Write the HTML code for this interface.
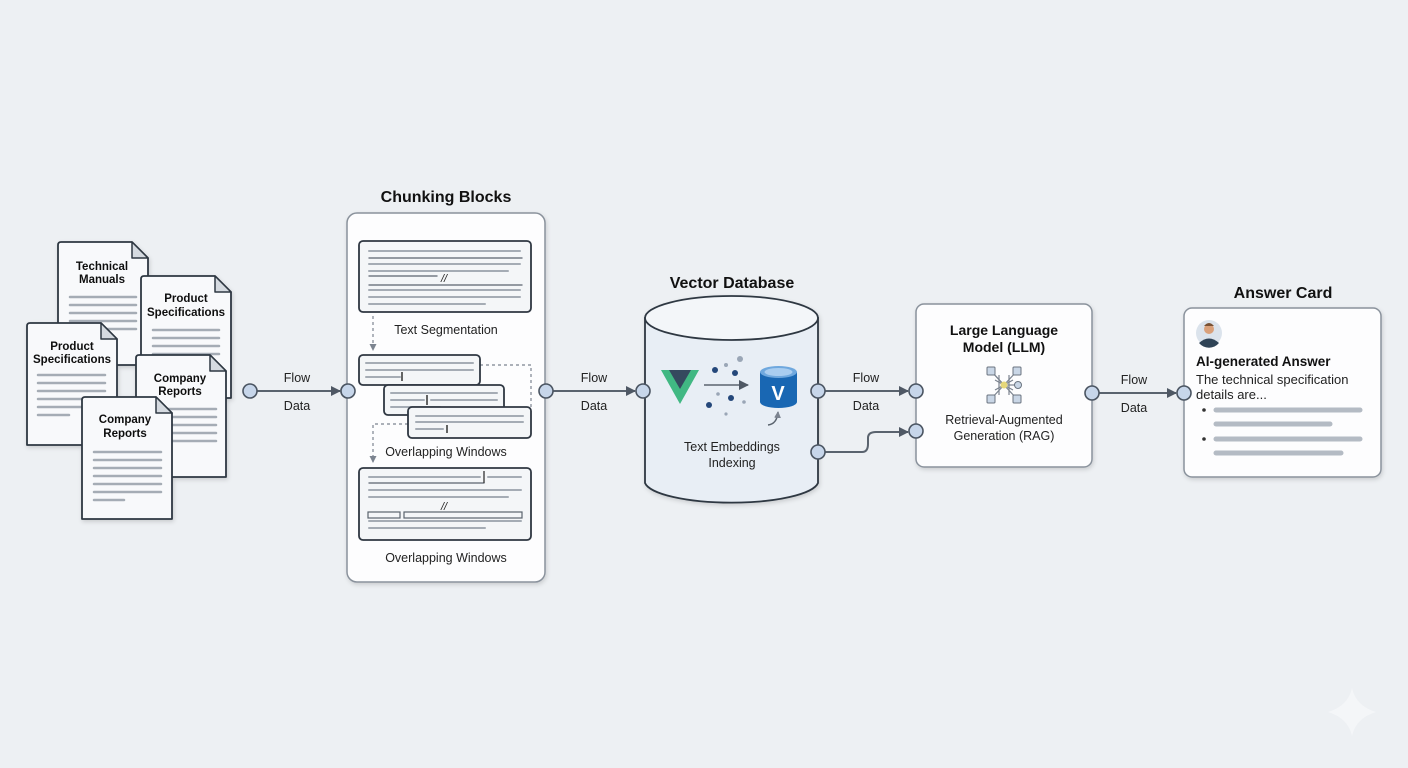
<!DOCTYPE html>
<html><head><meta charset="utf-8"><style>
html,body{margin:0;padding:0;background:#edf0f3;}
svg{display:block;font-family:"Liberation Sans",sans-serif;}
.t{font-size:12.5px;fill:#222;text-anchor:middle}
.b{font-weight:bold;fill:#111}
.ln{stroke:#a5acb5;stroke-width:2.5;stroke-linecap:round}
.doc{fill:#f8f9fb;stroke:#2f3742;stroke-width:1.8;stroke-linejoin:round}
.fold{fill:#d5dae0;stroke:#2f3742;stroke-width:1.5;stroke-linejoin:round}
.blk{fill:#f4f6f8;stroke:#2f3742;stroke-width:1.8}
.cn{fill:#c7d6ea;stroke:#4a5461;stroke-width:1.6}
.ar{stroke:#5a636e;stroke-width:2;fill:none}
.ds{stroke:#7c8490;stroke-width:1.2;stroke-dasharray:3 3;fill:none}
</style></head><body>
<svg width="1408" height="768" viewBox="0 0 1408 768">
<defs>
<marker id="ah" markerWidth="10" markerHeight="10" refX="9" refY="5" orient="auto" markerUnits="userSpaceOnUse"><path d="M0,0 L10,5 L0,10 Z" fill="#4f5864"/></marker>
<marker id="sh" markerWidth="7" markerHeight="7" refX="6" refY="3.5" orient="auto" markerUnits="userSpaceOnUse"><path d="M0,0 L7,3.5 L0,7 Z" fill="#7c8490"/></marker>
<filter id="sd" x="-10%" y="-10%" width="130%" height="130%"><feDropShadow dx="1" dy="2" stdDeviation="2" flood-color="#000" flood-opacity="0.15"/></filter>
</defs>
<rect width="1408" height="768" fill="#edf0f3"/>

<g filter="url(#sd)">
<g transform="translate(58,242)"><path class="doc" d="M0,3 Q0,0 3,0 H74 L90,16 V123 H0 Z"/><path class="fold" d="M74,0 V16 H90 Z"/>
<text class="t b" x="44" y="28" style="font-size:11.5px">Technical</text><text class="t b" x="44" y="41" style="font-size:11.5px">Manuals</text>
<g class="ln"><line x1="12" y1="55" x2="78" y2="55"/><line x1="12" y1="63" x2="78" y2="63"/><line x1="12" y1="71" x2="78" y2="71"/><line x1="12" y1="79" x2="78" y2="79"/><line x1="12" y1="87" x2="78" y2="87"/></g></g>
<g transform="translate(141,276)"><path class="doc" d="M0,3 Q0,0 3,0 H74 L90,16 V122 H0 Z"/><path class="fold" d="M74,0 V16 H90 Z"/>
<text class="t b" x="45" y="26" style="font-size:11.5px">Product</text><text class="t b" x="45" y="40" style="font-size:11.5px">Specifications</text>
<g class="ln"><line x1="12" y1="54" x2="78" y2="54"/><line x1="12" y1="62" x2="78" y2="62"/><line x1="12" y1="70" x2="78" y2="70"/><line x1="12" y1="78" x2="78" y2="78"/></g></g>
<g transform="translate(27,323)"><path class="doc" d="M0,3 Q0,0 3,0 H74 L90,16 V122 H0 Z"/><path class="fold" d="M74,0 V16 H90 Z"/>
<text class="t b" x="45" y="27" style="font-size:11.5px">Product</text><text class="t b" x="45" y="40" style="font-size:11.5px">Specifications</text>
<g class="ln"><line x1="11" y1="52" x2="78" y2="52"/><line x1="11" y1="60" x2="78" y2="60"/><line x1="11" y1="68" x2="78" y2="68"/><line x1="11" y1="76" x2="78" y2="76"/><line x1="11" y1="84" x2="78" y2="84"/><line x1="11" y1="92" x2="42" y2="92"/></g></g>
<g transform="translate(136,355)"><path class="doc" d="M0,3 Q0,0 3,0 H74 L90,16 V122 H0 Z"/><path class="fold" d="M74,0 V16 H90 Z"/>
<text class="t b" x="44" y="27" style="font-size:11.5px">Company</text><text class="t b" x="44" y="40" style="font-size:11.5px">Reports</text>
<g class="ln"><line x1="12" y1="54" x2="80" y2="54"/><line x1="12" y1="62" x2="80" y2="62"/><line x1="12" y1="70" x2="80" y2="70"/><line x1="12" y1="78" x2="80" y2="78"/><line x1="12" y1="86" x2="80" y2="86"/></g></g>
<g transform="translate(82,397)"><path class="doc" d="M0,3 Q0,0 3,0 H74 L90,16 V122 H0 Z"/><path class="fold" d="M74,0 V16 H90 Z"/>
<text class="t b" x="43" y="26" style="font-size:11.5px">Company</text><text class="t b" x="43" y="40" style="font-size:11.5px">Reports</text>
<g class="ln"><line x1="12" y1="55" x2="79" y2="55"/><line x1="12" y1="63" x2="79" y2="63"/><line x1="12" y1="71" x2="79" y2="71"/><line x1="12" y1="79" x2="79" y2="79"/><line x1="12" y1="87" x2="79" y2="87"/><line x1="12" y1="95" x2="79" y2="95"/><line x1="12" y1="103" x2="42" y2="103"/></g></g>
</g>

<line class="ar" x1="257" y1="391" x2="340" y2="391" marker-end="url(#ah)"/>
<circle class="cn" cx="250" cy="391" r="7"/><circle class="cn" cx="348" cy="391" r="7"/>
<text class="t" x="297" y="382">Flow</text><text class="t" x="297" y="410">Data</text>

<text class="t b" x="446" y="202" style="font-size:16px">Chunking Blocks</text>
<rect x="347" y="213" width="198" height="369" rx="10" fill="#fdfdfe" stroke="#8a929c" stroke-width="1.5" filter="url(#sd)"/>
<circle class="cn" cx="348" cy="391" r="7"/>
<rect class="blk" x="359" y="241" width="172" height="71" rx="4"/>
<g class="ln" style="stroke-width:2"><line x1="369" y1="251" x2="520" y2="251"/><line x1="369" y1="258" x2="522" y2="258" style="stroke:#5a636e;stroke-width:1.3"/><line x1="369" y1="264" x2="520" y2="264"/><line x1="369" y1="271" x2="508" y2="271"/><line x1="369" y1="276" x2="437" y2="276" style="stroke:#5a636e;stroke-width:1.3"/><line x1="369" y1="285" x2="522" y2="285" style="stroke:#5a636e;stroke-width:1.3"/><line x1="369" y1="290" x2="520" y2="290"/><line x1="369" y1="297" x2="520" y2="297"/><line x1="369" y1="304" x2="485" y2="304"/></g>
<text x="441" y="282" style="font-size:11px;font-style:italic" fill="#222">//</text>
<text class="t" x="446" y="334">Text Segmentation</text>
<path class="ds" d="M373,316 V350" marker-end="url(#sh)"/>
<path class="ds" d="M480,365 H531 V407"/>
<rect class="blk" x="359" y="355" width="121" height="30" rx="4"/>
<g class="ln" style="stroke-width:2"><line x1="366" y1="363" x2="473" y2="363"/><line x1="366" y1="370" x2="473" y2="370"/><line x1="366" y1="377" x2="400" y2="377"/></g><line x1="402" y1="372" x2="402" y2="381" stroke="#333" stroke-width="1.5"/>
<rect class="blk" x="384" y="385" width="120" height="30" rx="4"/>
<g class="ln" style="stroke-width:2"><line x1="391" y1="393" x2="497" y2="393"/><line x1="391" y1="400" x2="424" y2="400"/><line x1="431" y1="400" x2="497" y2="400"/><line x1="391" y1="407" x2="440" y2="407"/></g><line x1="427" y1="395" x2="427" y2="405" stroke="#333" stroke-width="1.5"/>
<path class="ds" d="M408,424 H373 V462" marker-end="url(#sh)"/>
<rect class="blk" x="408" y="407" width="123" height="31" rx="4"/>
<g class="ln" style="stroke-width:2"><line x1="416" y1="416" x2="523" y2="416"/><line x1="416" y1="422" x2="523" y2="422"/><line x1="416" y1="429" x2="443" y2="429"/></g><line x1="447" y1="425" x2="447" y2="433" stroke="#333" stroke-width="1.5"/>
<text class="t" x="446" y="456">Overlapping Windows</text>
<rect class="blk" x="359" y="468" width="172" height="72" rx="4"/>
<g class="ln" style="stroke-width:2"><line x1="369" y1="477" x2="480" y2="477"/><line x1="488" y1="477" x2="521" y2="477"/><line x1="369" y1="483" x2="484" y2="483" style="stroke:#5a636e;stroke-width:1.3"/><line x1="369" y1="490" x2="521" y2="490"/><line x1="369" y1="497" x2="508" y2="497"/><line x1="369" y1="521" x2="521" y2="521"/><line x1="369" y1="528" x2="485" y2="528"/></g>
<line x1="484" y1="471" x2="484" y2="483" stroke="#333" stroke-width="1.3"/>
<rect x="368" y="512" width="32" height="6" fill="none" stroke="#5a636e" stroke-width="1.2"/><rect x="404" y="512" width="118" height="6" fill="none" stroke="#5a636e" stroke-width="1.2"/>
<text x="441" y="510" style="font-size:11px;font-style:italic" fill="#222">//</text>
<text class="t" x="446" y="562">Overlapping Windows</text>

<line class="ar" x1="553" y1="391" x2="635" y2="391" marker-end="url(#ah)"/>
<circle class="cn" cx="546" cy="391" r="7"/>
<text class="t" x="594" y="382">Flow</text><text class="t" x="594" y="410">Data</text>

<text class="t b" x="732" y="288" style="font-size:16px">Vector Database</text>
<g filter="url(#sd)">
<path d="M645,318 V483 A87,22 0 0 0 818,483 V318 Z" fill="#e8eef5" stroke="#2f3742" stroke-width="1.8"/>
<ellipse cx="731.5" cy="318" rx="86.5" ry="22" fill="#f3f6f9" stroke="#2f3742" stroke-width="1.8"/>
</g>
<circle class="cn" cx="643" cy="391" r="7"/>
<path d="M661,370 H699 L680,404 Z" fill="#41b883"/><path d="M669,370 H691 L680,389 Z" fill="#35495e"/>
<line x1="704" y1="385" x2="748" y2="385" stroke="#5a636e" stroke-width="1.5" marker-end="url(#ah)"/>
<g fill="#24477a"><circle cx="715" cy="370" r="3"/><circle cx="735" cy="373" r="3"/><circle cx="731" cy="398" r="3"/><circle cx="709" cy="405" r="3"/></g>
<g fill="#9aa6b6"><circle cx="726" cy="365" r="2"/><circle cx="740" cy="359" r="3"/><circle cx="718" cy="394" r="1.8"/><circle cx="744" cy="402" r="1.8"/><circle cx="726" cy="414" r="1.6"/></g>
<path d="M760,372 V402 A18.5,6 0 0 0 797,402 V372 Z" fill="#1967b3"/><ellipse cx="778.5" cy="372" rx="18.5" ry="6" fill="#6fa8de"/><ellipse cx="778.5" cy="372" rx="14" ry="4" fill="#a9cdf0"/>
<text x="778" y="400" text-anchor="middle" fill="#fff" style="font-size:20px;font-weight:bold">V</text>
<path d="M768,425 Q777,424 778,412" stroke="#5a636e" stroke-width="1.5" fill="none" marker-end="url(#sh)"/>
<text class="t" x="732" y="451">Text Embeddings</text><text class="t" x="732" y="467">Indexing</text>

<line class="ar" x1="825" y1="391" x2="908" y2="391" marker-end="url(#ah)"/>
<path class="ar" d="M825,452 H862 Q868,452 868,444 V438 Q868,432 876,432 H908" marker-end="url(#ah)"/>
<circle class="cn" cx="818" cy="391" r="7"/><circle class="cn" cx="818" cy="452" r="7"/>
<text class="t" x="866" y="382">Flow</text><text class="t" x="866" y="410">Data</text>

<rect x="916" y="304" width="176" height="163" rx="8" fill="#fdfdfe" stroke="#8a929c" stroke-width="1.5" filter="url(#sd)"/>
<circle class="cn" cx="916" cy="391" r="7"/><circle class="cn" cx="916" cy="431" r="7"/>
<text class="t b" x="1004" y="335" style="font-size:14px">Large Language</text><text class="t b" x="1004" y="352" style="font-size:14px">Model (LLM)</text>
<g stroke="#7c8490" stroke-width="1.2"><line x1="991" y1="371" x2="1017" y2="399"/><line x1="1017" y1="371" x2="991" y2="399"/><line x1="991" y1="371" x2="1004" y2="385"/><line x1="1004" y1="385" x2="1018" y2="385"/><line x1="995" y1="380" x2="1013" y2="390"/><line x1="995" y1="390" x2="1013" y2="380"/><line x1="999" y1="375" x2="999" y2="395"/><line x1="1009" y1="375" x2="1009" y2="395"/></g>
<g fill="#c9d6e6" stroke="#6a7480" stroke-width="1"><rect x="987" y="367" width="8" height="8" rx="1"/><rect x="1013" y="367" width="8" height="8" rx="1"/><rect x="987" y="395" width="8" height="8" rx="1"/><rect x="1013" y="395" width="8" height="8" rx="1"/><circle cx="1018" cy="385" r="3.5"/></g>
<circle cx="1004" cy="385" r="3.5" fill="#e6d77a"/>
<text class="t" x="1004" y="424">Retrieval-Augmented</text><text class="t" x="1004" y="440">Generation (RAG)</text>

<line class="ar" x1="1099" y1="393" x2="1176" y2="393" marker-end="url(#ah)"/>
<circle class="cn" cx="1092" cy="393" r="7"/>
<text class="t" x="1134" y="384">Flow</text><text class="t" x="1134" y="412">Data</text>

<text class="t b" x="1283" y="298" style="font-size:16px">Answer Card</text>
<rect x="1184" y="308" width="197" height="169" rx="8" fill="#fdfdfe" stroke="#8a929c" stroke-width="1.5" filter="url(#sd)"/>
<circle class="cn" cx="1184" cy="393" r="7"/>
<circle cx="1209" cy="333" r="13" fill="#dbe3ec"/>
<circle cx="1209" cy="329" r="5" fill="#d9a07a"/><path d="M1204,326 Q1209,320 1214,326 Z" fill="#7a5234"/>
<path d="M1199,343 Q1209,334 1219,343 A13,13 0 0 1 1199,343 Z" fill="#2f4356"/>
<text x="1196" y="366" style="font-size:13.5px;font-weight:bold" fill="#111">AI-generated Answer</text>
<text x="1196" y="384" style="font-size:13px" fill="#222">The technical specification</text>
<text x="1196" y="399" style="font-size:13px" fill="#222">details are...</text>
<circle cx="1204" cy="410" r="1.8" fill="#333"/><circle cx="1204" cy="439" r="1.8" fill="#333"/>
<g stroke="#b4bbc4" stroke-width="5" stroke-linecap="round"><line x1="1216" y1="410" x2="1360" y2="410"/><line x1="1216" y1="424" x2="1330" y2="424"/><line x1="1216" y1="439" x2="1360" y2="439"/><line x1="1216" y1="453" x2="1341" y2="453"/></g>

<path d="M1352,688 Q1356,706 1376,712 Q1356,718 1352,736 Q1348,718 1328,712 Q1348,706 1352,688 Z" fill="#f4f6f8"/>
</svg>
</body></html>
